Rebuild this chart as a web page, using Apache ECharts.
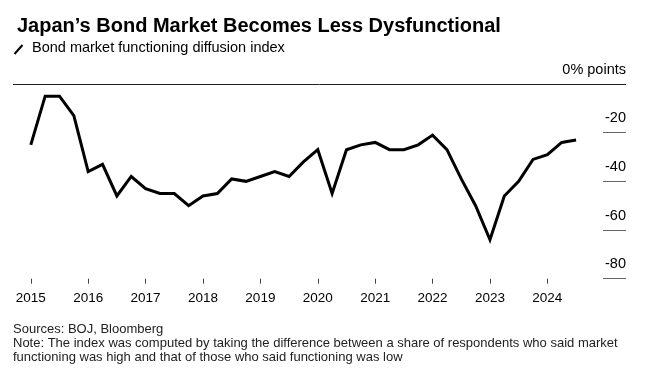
<!DOCTYPE html>
<html>
<head>
<meta charset="utf-8">
<script src="https://cdn.jsdelivr.net/npm/echarts@6/dist/echarts.min.js"></script>
<style>
html,body{margin:0;padding:0;background:#fff;}
#chart{width:648px;height:378px;}
</style>
</head>
<body>
<div id="chart"></div>
<script>
// Quarterly survey periods, starting Q1 2015
var startYear = 2015;
var values = [-25, -5, -5, -13, -36, -33, -46, -38, -43, -45, -45, -50, -46, -45, -39, -40, -38, -36, -38, -32,
              -27, -45, -27, -25, -24, -27, -27, -25, -21, -27, -39, -50, -64, -46, -40, -31, -29, -24, -23];
var yearTicks = [2015, 2016, 2017, 2018, 2019, 2020, 2021, 2022, 2023, 2024];
var yTicks = [-80, -60, -40, -20, 0];
var titleText = 'Japan\u2019s Bond Market Becomes Less Dysfunctional';
var subtitleText = 'Bond market functioning diffusion index';
var unitText = '0% points';
var footerText = 'Sources: BOJ, Bloomberg\nNote: The index was computed by taking the difference between a share of respondents who said market\nfunctioning was high and that of those who said functioning was low';

var seriesData = values.map(function (v, i) { return [startYear + i * 0.25, v]; });
var FONT = 'Liberation Sans, Arial, sans-serif';

var chart = echarts.init(document.getElementById('chart'));
chart.setOption({
  animation: false,
  backgroundColor: '#fff',
  title: {
    text: titleText,
    left: 12,
    top: 11,
    textStyle: { fontFamily: FONT, fontSize: 20, fontWeight: 'bold', color: '#000', lineHeight: 20 }
  },
  graphic: [
    { type: 'line', shape: { x1: 14.5, y1: 54, x2: 22.5, y2: 45 }, style: { stroke: '#000', lineWidth: 2 } },
    { type: 'text', left: 32, top: 40, style: { text: subtitleText, font: '14.5px ' + FONT, fill: '#000', lineHeight: 14.5 } },
    { type: 'text', left: 13, top: 322.5, style: { text: footerText, font: '13px ' + FONT, fill: '#222', lineHeight: 14.1 } }
  ],
  grid: { left: 13, right: 22, top: 84, bottom: 99.3, containLabel: false },
  xAxis: {
    type: 'value',
    min: 2014.69,
    max: 2025.37,
    axisLine: { show: false, onZero: false },
    splitLine: { show: false },
    axisTick: { show: true, customValues: yearTicks, length: 5, lineStyle: { color: '#444', width: 1 } },
    axisLabel: {
      customValues: yearTicks,
      margin: 13,
      fontFamily: FONT, fontSize: 13.5, color: '#000',
      formatter: function (v) { return String(Math.round(v)); }
    }
  },
  yAxis: {
    type: 'value',
    position: 'right',
    min: -80,
    max: 0,
    interval: 20,
    axisLine: { show: false },
    splitLine: { show: false },
    axisTick: { show: true, inside: true, length: 23, lineStyle: { color: '#666', width: 1 } },
    axisLabel: {
      inside: true,
      margin: 0,
      verticalAlign: 'bottom',
      padding: [0, 0, 7, 0],
      fontFamily: FONT, fontSize: 14.5, color: '#000', lineHeight: 14.5,
      formatter: function (v) { return v === 0 ? unitText : String(v); }
    }
  },
  series: [{
    type: 'line',
    data: seriesData,
    symbol: 'none',
    lineStyle: { color: '#000', width: 3, join: 'miter' },
    markLine: {
      silent: true,
      symbol: 'none',
      label: { show: false },
      lineStyle: { color: '#222', width: 1, type: 'solid' },
      data: [{ yAxis: 0 }]
    }
  }]
});
</script>
</body>
</html>
